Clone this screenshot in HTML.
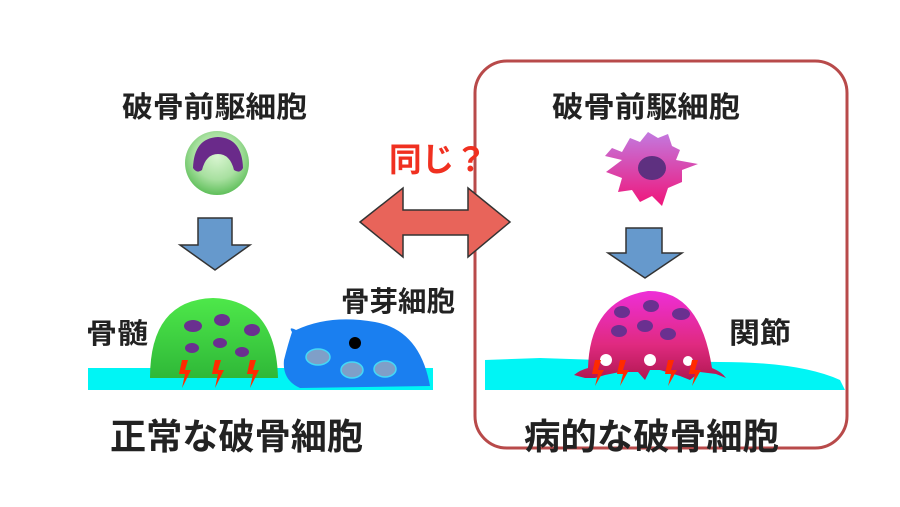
<!DOCTYPE html>
<html><head><meta charset="utf-8"><style>
html,body{margin:0;padding:0;background:#fff;}
svg{display:block;}
text{font-family:"Liberation Sans","Noto Sans CJK JP",sans-serif;font-weight:bold;}
</style></head><body>
<svg width="900" height="507" viewBox="0 0 900 507" xmlns="http://www.w3.org/2000/svg">
<defs>
<radialGradient id="gc" cx="0.5" cy="0.4" r="0.6"><stop offset="0" stop-color="#d8f5d0"/><stop offset="0.6" stop-color="#a8e0a0"/><stop offset="1" stop-color="#5fbf5a"/></radialGradient>
<linearGradient id="gd" x1="0" y1="0" x2="0" y2="1"><stop offset="0" stop-color="#4ee84a"/><stop offset="1" stop-color="#2fb838"/></linearGradient>
<linearGradient id="pk" x1="0" y1="0" x2="0" y2="1"><stop offset="0" stop-color="#c27ae0"/><stop offset="1" stop-color="#f0157a"/></linearGradient>
<linearGradient id="pd" x1="0" y1="0" x2="0" y2="1"><stop offset="0" stop-color="#ee2ed8"/><stop offset="0.6" stop-color="#e02a80"/><stop offset="1" stop-color="#b01850"/></linearGradient>
</defs>
<rect x="475" y="61" width="372" height="387" rx="32" fill="none" stroke="#b84a4a" stroke-width="3"/>

<!-- left -->
<text x="122" y="117" font-size="29" textLength="185" lengthAdjust="spacingAndGlyphs" fill="#222">破骨前駆細胞</text>
<circle cx="217" cy="163" r="32" fill="url(#gc)"/>
<path d="M193 168 Q194 138 218 137 Q242 138 243 168 Q240 174 234 170 Q230 154 218 154 Q206 154 202 170 Q197 174 193 168Z" fill="#6a2a8a"/>
<polygon points="198,218 232,218 232,245 250,245 215,270 180,245 198,245" fill="#6699cc" stroke="#333" stroke-width="1.5"/>
<rect x="88" y="368" width="345" height="22" fill="#00f5f5"/>
<path d="M150 378 Q150 300 213 298 Q276 300 278 378Z" fill="url(#gd)"/>
<g fill="#6a3090">
<ellipse cx="193" cy="326" rx="9" ry="6"/><ellipse cx="222" cy="320" rx="8" ry="6"/><ellipse cx="252" cy="330" rx="8" ry="6"/>
<ellipse cx="192" cy="348" rx="7" ry="5"/><ellipse cx="220" cy="343" rx="7" ry="5"/><ellipse cx="242" cy="352" rx="7" ry="5"/></g>
<g fill="#ff2a00"><path d="M182 360 L188 360 L185 370 L191 370 L182 388 L185 374 L179 374Z"/><path d="M215 360 L221 360 L218 370 L224 370 L215 388 L218 374 L212 374Z"/><path d="M250 360 L256 360 L253 370 L259 370 L250 388 L253 374 L247 374Z"/></g>
<path d="M292 332 Q288 326 296 330 Q330 314 375 322 Q420 330 430 386 L300 388 Q282 380 284 360 Q288 344 292 332Z" fill="#1a7ff0"/>
<circle cx="355" cy="343" r="6" fill="#000"/>
<g fill="#7f9fc8" stroke="#45d8f5" stroke-width="1.5"><ellipse cx="318" cy="357" rx="12" ry="8"/><ellipse cx="352" cy="370" rx="11" ry="8"/><ellipse cx="385" cy="369" rx="11" ry="8"/></g>
<text x="86" y="343" font-size="28" textLength="62" lengthAdjust="spacingAndGlyphs" fill="#222">骨髄</text>
<text x="341" y="311" font-size="28" textLength="114" lengthAdjust="spacingAndGlyphs" fill="#222">骨芽細胞</text>
<text x="110" y="449" font-size="36" textLength="253" lengthAdjust="spacingAndGlyphs" fill="#222">正常な破骨細胞</text>

<!-- double arrow -->
<polygon points="360,222 403,188 403,210 468,210 468,188 510,222 468,257 468,235 403,235 403,257" fill="#e8645a" stroke="#333" stroke-width="1.5"/>
<text x="389" y="171" font-size="33" textLength="98" lengthAdjust="spacingAndGlyphs" fill="#f03020">同じ？</text>

<!-- right -->
<text x="552" y="117" font-size="29" textLength="188" lengthAdjust="spacingAndGlyphs" fill="#222">破骨前駆細胞</text>
<path d="M622 160 L605 156 L612 148 L622 152 L630 138 L640 142 L648 132 L658 138 L668 134 L672 146 L680 150 L676 160 L698 164 L682 170 L682 182 L668 188 L662 206 L652 196 L640 202 L632 190 L618 192 L622 178 L606 172 Z" fill="url(#pk)"/>
<ellipse cx="652" cy="168" rx="14" ry="12" fill="#5e3080"/>
<polygon points="626,228 662,228 662,253 682,253 645,278 608,253 626,253" fill="#6699cc" stroke="#333" stroke-width="1.5"/>
<path d="M485 360 L540 358 L600 360 L720 362 Q800 362 840 380 L845 390 L485 390Z" fill="#00f5f5"/>
<path d="M574 375 Q580 370 588 368 Q590 300 648 291 Q700 290 712 368 Q722 372 726 378 L716 374 L700 372 L690 380 L680 376 L660 370 L650 370 L645 380 L638 372 L620 372 L605 375 L595 378 L585 378Z" fill="url(#pd)"/>
<g fill="#fff"><circle cx="606" cy="360" r="6"/><circle cx="650" cy="360" r="6"/><circle cx="688" cy="361" r="5"/></g>
<g fill="#6a3090">
<ellipse cx="622" cy="312" rx="8" ry="6"/><ellipse cx="651" cy="306" rx="8" ry="6"/><ellipse cx="681" cy="314" rx="9" ry="6"/>
<ellipse cx="619" cy="331" rx="8" ry="6"/><ellipse cx="645" cy="326" rx="8" ry="6"/><ellipse cx="668" cy="334" rx="8" ry="6"/></g>
<g fill="#ff2a00"><path d="M595 360 L601 360 L598 370 L604 370 L595 386 L598 374 L592 374Z"/><path d="M620 360 L626 360 L623 370 L629 370 L620 386 L623 374 L617 374Z"/><path d="M668 360 L674 360 L671 370 L677 370 L668 386 L671 374 L665 374Z"/><path d="M692 360 L698 360 L695 370 L701 370 L692 386 L695 374 L689 374Z"/></g>
<text x="729" y="343" font-size="29" textLength="62" lengthAdjust="spacingAndGlyphs" fill="#222">関節</text>
<text x="524" y="449" font-size="36" textLength="255" lengthAdjust="spacingAndGlyphs" fill="#222">病的な破骨細胞</text>
</svg>
</body></html>
